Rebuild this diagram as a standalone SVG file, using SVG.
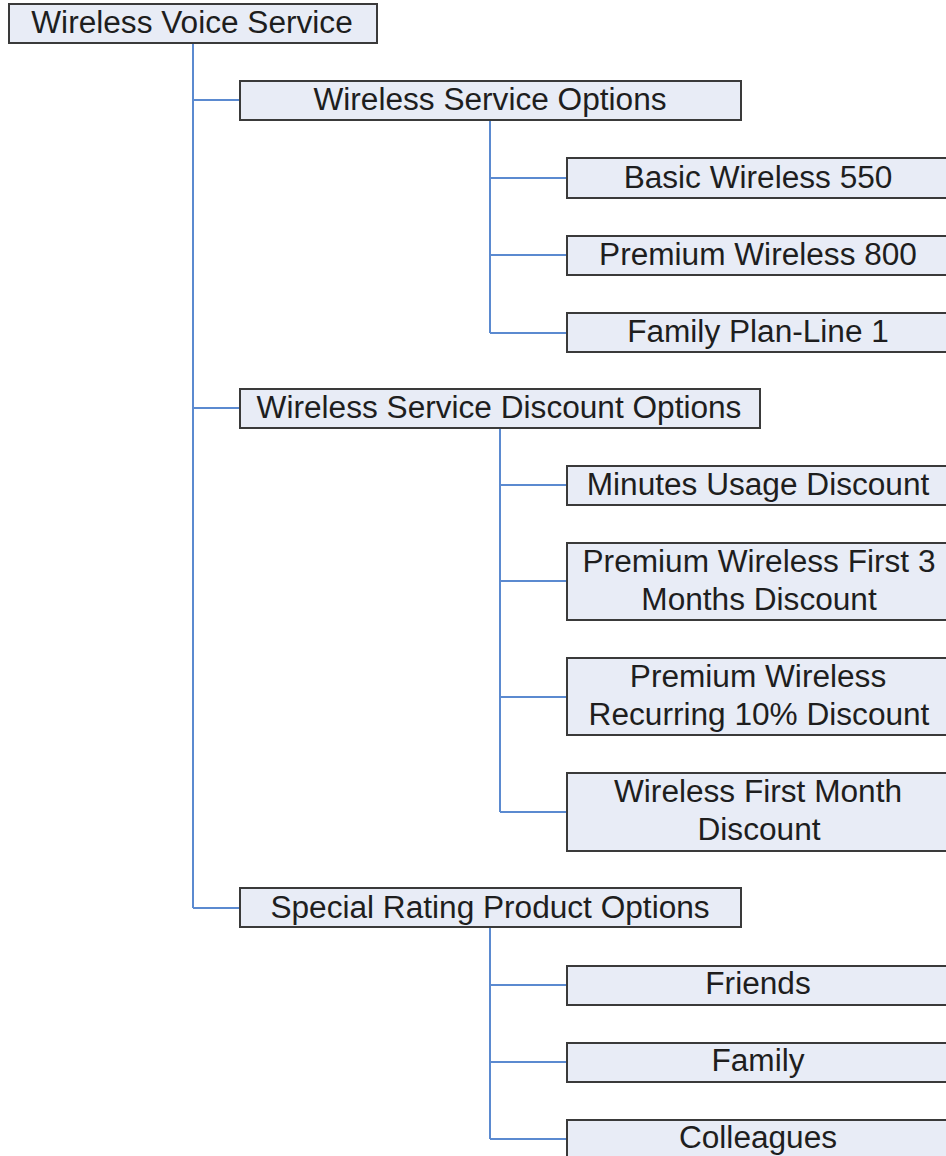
<svg xmlns="http://www.w3.org/2000/svg" width="946" height="1156" viewBox="0 0 946 1156">
<style>
.box{fill:#e8ecf6;stroke:#3a3a3a;stroke-width:2}
.t{font-family:"Liberation Sans",Arial,sans-serif;font-size:31px;fill:#1e1e1e;text-anchor:middle}
.c{fill:none;stroke:#5b8ad0;stroke-width:2}
</style>
<rect width="946" height="1156" fill="#ffffff"/>
<g id="connectors">
<path class="c" d="M193 43V908M193 100H240M193 408H240M193 908H240"/>
<path class="c" d="M490 120V333M490 178H567M490 255H567M490 333H567"/>
<path class="c" d="M500 428V812M500 485H567M500 581H567M500 697H567M500 812H567"/>
<path class="c" d="M490 927V1139M490 985H567M490 1062H567M490 1139H567"/>
</g>
<g id="n-root"><rect class="box" x="9" y="4" width="368" height="39"/><text class="t" transform="translate(192 33) scale(1.02 1)">Wireless Voice Service</text></g>
<g id="n-wso"><rect class="box" x="240" y="81" width="501" height="39"/><text class="t" transform="translate(490 110) scale(1.02 1)">Wireless Service Options</text></g>
<g id="n-basic"><rect class="box" x="567" y="158" width="383" height="40"/><text class="t" transform="translate(758 188) scale(1.02 1)">Basic Wireless 550</text></g>
<g id="n-prem800"><rect class="box" x="567" y="236" width="383" height="39"/><text class="t" transform="translate(758 265) scale(1.02 1)">Premium Wireless 800</text></g>
<g id="n-family-plan"><rect class="box" x="567" y="313" width="383" height="39"/><text class="t" transform="translate(758 342) scale(1.02 1)">Family Plan-Line 1</text></g>
<g id="n-wsdo"><rect class="box" x="240" y="389" width="520" height="39"/><text class="t" transform="translate(499 418) scale(1.02 1)">Wireless Service Discount Options</text></g>
<g id="n-minutes"><rect class="box" x="567" y="466" width="383" height="39"/><text class="t" transform="translate(758 495) scale(1.02 1)">Minutes Usage Discount</text></g>
<g id="n-first3"><rect class="box" x="567" y="543" width="383" height="77"/><text class="t" transform="translate(759 572) scale(1.02 1)">Premium Wireless First 3</text><text class="t" transform="translate(759 610) scale(1.02 1)">Months Discount</text></g>
<g id="n-recurring"><rect class="box" x="567" y="658" width="383" height="77"/><text class="t" transform="translate(758 687) scale(1.02 1)">Premium Wireless</text><text class="t" transform="translate(759 725) scale(1.02 1)">Recurring 10% Discount</text></g>
<g id="n-firstmonth"><rect class="box" x="567" y="773" width="383" height="78"/><text class="t" transform="translate(758 802) scale(1.02 1)">Wireless First Month</text><text class="t" transform="translate(759 840) scale(1.02 1)">Discount</text></g>
<g id="n-srpo"><rect class="box" x="240" y="888" width="501" height="39"/><text class="t" transform="translate(490 918) scale(1.02 1)">Special Rating Product Options</text></g>
<g id="n-friends"><rect class="box" x="567" y="966" width="383" height="39"/><text class="t" transform="translate(758 994) scale(1.02 1)">Friends</text></g>
<g id="n-family"><rect class="box" x="567" y="1043" width="383" height="39"/><text class="t" transform="translate(758 1071) scale(1.02 1)">Family</text></g>
<g id="n-colleagues"><rect class="box" x="567" y="1120" width="383" height="39"/><text class="t" transform="translate(758 1148) scale(1.02 1)">Colleagues</text></g>
</svg>
